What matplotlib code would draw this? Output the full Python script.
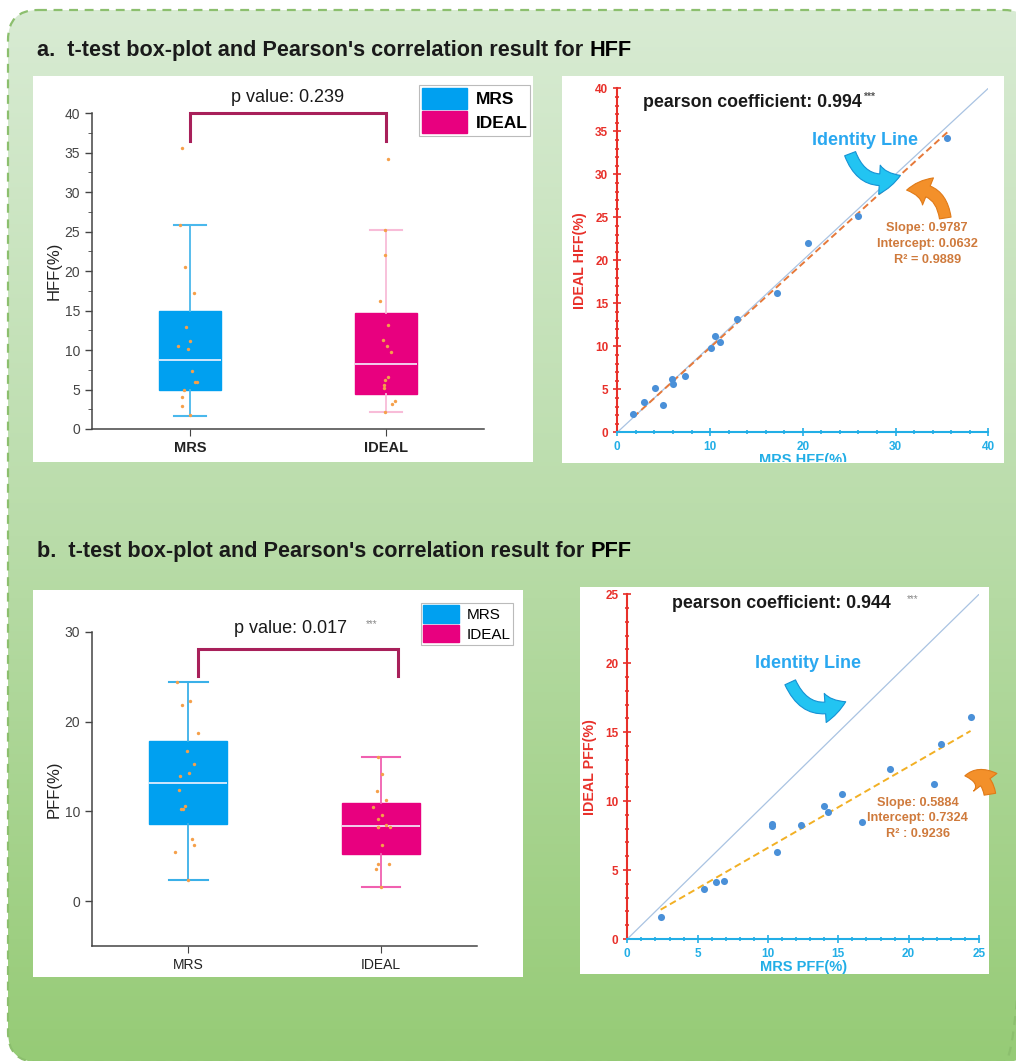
import matplotlib
matplotlib.use("Agg")
import matplotlib.pyplot as plt
import numpy as np
from matplotlib.patches import FancyBboxPatch, Rectangle, FancyArrowPatch, Patch
from matplotlib.ticker import MultipleLocator
from matplotlib.colors import LinearSegmentedColormap
from matplotlib.transforms import Bbox

plt.rcParams['font.family'] = ['Liberation Sans', 'DejaVu Sans']

W, H = 1016, 1061

# ---- data ----
groups = ["MRS", "IDEAL"]

hff_mrs = [1.73, 2.88, 4.1, 4.96, 5.9, 6.0, 7.3, 10.13, 10.5, 11.1, 12.9, 17.2, 20.55, 25.9, 35.6]
hff_ideal = [2.13, 3.57, 5.19, 3.18, 6.2, 5.58, 6.59, 9.77, 11.24, 10.54, 13.2, 16.2, 22.05, 25.16, 34.26]
hff_jit_mrs = [0.0, -0.04, -0.04, -0.03, 0.025, 0.035, 0.01, -0.012, -0.06, 0.0, -0.02, 0.02, -0.026, -0.05, -0.04]
hff_jit_ideal = [-0.007, 0.045, -0.01, 0.03, -0.007, -0.01, 0.01, 0.027, -0.017, 0.003, 0.01, -0.03, -0.007, -0.007, 0.01]

pff_mrs = [2.37, 5.47, 6.3, 6.9, 10.28, 10.31, 10.64, 12.35, 14.0, 14.3, 15.24, 16.7, 18.7, 21.82, 22.3, 24.4]
pff_ideal = [1.57, 3.6, 4.11, 4.18, 8.32, 8.22, 6.29, 8.27, 9.65, 9.19, 10.49, 8.46, 12.33, 11.27, 14.17, 16.1]
pff_jit_mrs = [0.0, -0.07, 0.03, 0.02, -0.04, -0.026, -0.017, -0.047, -0.043, 0.002, 0.03, -0.009, 0.05, -0.03, 0.009, -0.06]
pff_jit_ideal = [0.0, -0.026, -0.012, 0.045, -0.012, 0.05, 0.005, -0.012, 0.007, -0.016, -0.04, 0.028, -0.017, 0.026, 0.005, -0.012]

# whislo, q1, median, q3, whishi
hff_box = {"MRS": [1.7, 4.9, 8.7, 15.0, 25.9], "IDEAL": [2.2, 4.4, 8.2, 14.7, 25.2]}
pff_box = {"MRS": [2.4, 8.6, 13.2, 17.8, 24.4], "IDEAL": [1.6, 5.2, 8.4, 10.9, 16.1]}

hff_fit = (0.9787, 0.0632, 0.9889)
pff_fit = (0.5884, 0.7324, 0.9236)
hff_pearson = "0.994"
pff_pearson = "0.944"
hff_p = "0.239"
pff_p = "0.017"

BLUE = "#00a0f0"
PINK = "#e8007f"
DOT = "#f5a04a"
SCAT = "#4a90d8"
RED = "#e8302a"
XBLUE = "#22aee6"

fig = plt.figure(figsize=(W / 100, H / 100), dpi=100)


def px_axes(x0, y0, x1, y1, **kw):
    return fig.add_axes([x0 / W, 1 - y1 / H, (x1 - x0) / W, (y1 - y0) / H], **kw)


# ---- background: rounded, dashed, green gradient ----
bg = fig.add_axes([0, 0, 1, 1])
bg.set_xlim(0, W)
bg.set_ylim(H, 0)
bg.axis("off")
box = FancyBboxPatch((8, 10), 1026, 1052, boxstyle="round,pad=0,rounding_size=30",
                     facecolor="none", edgecolor="#8cbf6e", lw=1.6, ls=(0, (4, 3)), zorder=3)
bg.add_patch(box)
cmap = LinearSegmentedColormap.from_list("g", ["#d8ebd3", "#b9dca9", "#96cb76"])
grad = np.linspace(0, 1, 256).reshape(-1, 1)
im = bg.imshow(grad, cmap=cmap, extent=(8, 1034, 1062, 10), aspect="auto", zorder=1)
im.set_clip_path(box)

panels = [(33, 76, 533, 462), (562, 76, 1004, 463), (33, 590, 523, 977), (580, 587, 989, 974)]
for x0, y0, x1, y1 in panels:
    bg.add_patch(Rectangle((x0, y0), x1 - x0, y1 - y0, facecolor="white", edgecolor="none", zorder=4))

# section titles (last word bolder)
renderer = fig.canvas.get_renderer()
for ytit, head, tail in [(56, "a.  t-test box-plot and Pearson's correlation result for ", "HFF"),
                         (557, "b.  t-test box-plot and Pearson's correlation result for ", "PFF")]:
    t = bg.text(37, ytit, head, fontsize=15.6, fontweight="semibold", color="#1a1a1a",
                va="baseline", ha="left", zorder=5)
    ext = t.get_window_extent(renderer=renderer)
    bg.text(37 + ext.width, ytit, tail, fontsize=15.6, fontweight="bold", color="#000000",
            va="baseline", ha="left", zorder=5)


# ---- box plots ----
def box_panel(ax, stats, vals, jits, ylim, major, minor, ylabel, bracket, ptxt, legend_kw,
              bold, widths, capw, whisker_cols):
    bstats = []
    for g in groups:
        lo, q1, md, q3, hi = stats[g]
        bstats.append(dict(whislo=lo, q1=q1, med=md, q3=q3, whishi=hi, fliers=[], label=g))
    arts = ax.bxp(bstats, positions=[1, 2], widths=widths, capwidths=capw, patch_artist=True,
                  showfliers=False, medianprops=dict(color="#f2f2ff", lw=1.2))
    for i, col in enumerate([BLUE, PINK]):
        arts["boxes"][i].set_facecolor(col)
        arts["boxes"][i].set_edgecolor(col)
        for w in arts["whiskers"][2 * i:2 * i + 2]:
            w.set_color(whisker_cols[i])
            w.set_linewidth(1.3)
        for c in arts["caps"][2 * i:2 * i + 2]:
            c.set_color(whisker_cols[i])
            c.set_linewidth(1.5)
    for pos, v, j in [(1, vals[0], jits[0]), (2, vals[1], jits[1])]:
        ax.scatter(pos + np.array(j), v, s=6, color=DOT, zorder=5, linewidths=0)
    ax.set_xlim(0.5, 2.5)
    ax.set_ylim(*ylim)
    ax.yaxis.set_major_locator(MultipleLocator(major))
    if minor:
        ax.yaxis.set_minor_locator(MultipleLocator(minor))
    ax.set_xticks([1, 2])
    ax.set_xticklabels(groups, fontweight="bold" if bold else "normal", fontsize=10.5 if bold else 10,
                       color="#222222")
    ax.tick_params(axis="y", labelsize=10, colors="#444444", length=5, width=1)
    ax.tick_params(axis="y", which="minor", length=3, color="#444444")
    ax.tick_params(axis="x", length=5, color="#444444")
    for s in ["top", "right"]:
        ax.spines[s].set_visible(False)
    for s in ["left", "bottom"]:
        ax.spines[s].set_color("#444444")
        ax.spines[s].set_linewidth(1.1)
    ax.set_ylabel(ylabel, fontsize=12, color="#222222", labelpad=2)
    bx0, bx1, by0, by1 = bracket
    ax.plot([bx0, bx0, bx1, bx1], [by0, by1, by1, by0], color="#a8205a", lw=2.2, clip_on=False,
            solid_joinstyle="miter")
    ax.text(*ptxt[0], ptxt[1], fontsize=13, ha="center", va="center", color="#1a1a1a", clip_on=False)
    handles = [Patch(facecolor=BLUE, edgecolor=BLUE), Patch(facecolor=PINK, edgecolor=PINK)]
    leg = ax.legend(handles, groups, loc="upper left", bbox_transform=fig.transFigure,
                    prop=dict(weight="bold" if bold else "normal", size=legend_kw["size"]),
                    bbox_to_anchor=legend_kw["anchor"], handlelength=legend_kw["hl"],
                    handleheight=legend_kw["hh"], labelspacing=0.12, borderpad=0.15,
                    handletextpad=0.5, borderaxespad=0, fancybox=False, framealpha=1)
    leg.get_frame().set_edgecolor("#bbbbbb")
    leg.get_frame().set_linewidth(0.8)


axA = px_axes(92, 113.3, 484, 429)
axA.patch.set_alpha(0)
box_panel(axA, hff_box, [hff_mrs, hff_ideal], [hff_jit_mrs, hff_jit_ideal], (0, 40), 5, 2.5,
          "HFF(%)", (1, 2, 36.5, 40), ((1.5, 42.0), f"p value: {hff_p}"),
          dict(size=12.5, anchor=(419 / W, 1 - 85 / H), hl=2.6, hh=1.55), True, 0.32, 0.165,
          ["#4ab8ec", "#f8bcd8"])

axB = px_axes(92, 632, 477, 946)
axB.patch.set_alpha(0)
box_panel(axB, pff_box, [pff_mrs, pff_ideal], [pff_jit_mrs, pff_jit_ideal], (-5, 30), 10, None,
          "PFF(%)", (1.05, 2.09, 25.1, 28.1), ((1.53, 30.4), f"p value: {pff_p}"),
          dict(size=11, anchor=(421 / W, 1 - 603 / H), hl=2.35, hh=1.4), False, 0.405, 0.2,
          ["#3ab0e8", "#f060b0"])
axB.text(1.92, 30.9, "***", fontsize=7, color="#888888", ha="left", va="center", clip_on=False)


# ---- correlation scatter plots ----
def scatter_panel(ax, x, y, lim, xmajor, ymajor, minor, fit, fitcol, xlabel, ylabel):
    ax.plot([0, lim], [0, lim], color="#a9c3e2", lw=0.9, zorder=1)
    slope, icpt, _ = fit
    xf = np.array([min(x), max(x)])
    ax.plot(xf, slope * xf + icpt, color=fitcol, lw=1.4, ls=(0, (3.5, 2)), zorder=2)
    ax.scatter(x, y, s=26, color=SCAT, zorder=3, linewidths=0)
    ax.set_xlim(0, lim)
    ax.set_ylim(0, lim)
    ax.xaxis.set_major_locator(MultipleLocator(xmajor))
    ax.yaxis.set_major_locator(MultipleLocator(ymajor))
    ax.xaxis.set_minor_locator(MultipleLocator(minor[0]))
    ax.yaxis.set_minor_locator(MultipleLocator(minor[1]))
    for s in ["top", "right"]:
        ax.spines[s].set_visible(False)
    ax.spines["left"].set_color(RED)
    ax.spines["left"].set_linewidth(1.5)
    ax.spines["bottom"].set_color(XBLUE)
    ax.spines["bottom"].set_linewidth(1.5)
    ax.tick_params(axis="y", which="both", colors=RED, direction="inout", width=1.2)
    ax.tick_params(axis="x", which="both", colors=XBLUE, direction="inout", width=1.2)
    ax.tick_params(which="major", length=6, labelsize=8.5)
    ax.tick_params(which="minor", length=3)
    for lab in ax.get_xticklabels() + ax.get_yticklabels():
        lab.set_fontweight("bold")
    ax.set_ylabel(ylabel, color=RED, fontsize=10.3, fontweight="bold", labelpad=6)
    ax.set_xlabel(xlabel, color=XBLUE, fontsize=10.5, fontweight="bold", labelpad=0)


def curved_arrow(ax, a, b, face, edge, rad):
    arr = FancyArrowPatch(a, b, connectionstyle=f"arc3,rad={rad}",
                          arrowstyle="simple,head_length=1.1,head_width=1.5,tail_width=0.6",
                          mutation_scale=14, facecolor=face, edgecolor=edge, lw=0.8,
                          clip_on=False, zorder=4)
    ax.add_patch(arr)


axC = px_axes(617.3, 88.3, 988.3, 432.3)
axC.patch.set_alpha(0)
scatter_panel(axC, hff_mrs, hff_ideal, 40, 10, 5, (2, 1), hff_fit, "#e6793a",
              "MRS HFF(%)", "IDEAL HFF(%)")
axC.text(2.8, 38.3, "pearson coefficient: " + hff_pearson, fontsize=12.8,
         fontweight="bold", color="#1a1a1a", va="center")
axC.text(26.5, 39.0, "***", fontsize=7.5, fontweight="bold", color="#555555", va="center")
axC.text(26.7, 33.9, "Identity Line", fontsize=13, fontweight="bold", color="#2aa8f0",
         ha="center", va="center")
curved_arrow(axC, (25.0, 32.7), (30.8, 30.0), "#22c4f2", "#1592d4", 0.55)
curved_arrow(axC, (35.4, 24.6), (30.9, 28.1), "#f3902a", "#e07a18", 0.55)
axC.text(33.4, 21.9, f"Slope: {hff_fit[0]}\nIntercept: {hff_fit[1]}\nR² = {hff_fit[2]}",
         fontsize=9.2, fontweight="bold", color="#cf7a3c", ha="center", va="center",
         linespacing=1.4)
# x label is cut off by the panel edge in the source
clip = Bbox.from_extents(0, (H - 462), W, H)
axC.xaxis.label.set_clip_box(clip)
axC.xaxis.label.set_clip_on(True)

axD = px_axes(627.3, 594.3, 979, 939)
axD.patch.set_alpha(0)
scatter_panel(axD, pff_mrs, pff_ideal, 25, 5, 5, (1, 1), pff_fit, "#f2b024",
              "MRS PFF(%)", "IDEAL PFF(%)")
axD.text(3.2, 24.3, "pearson coefficient: " + pff_pearson, fontsize=12.8, fontweight="bold",
         color="#1a1a1a", va="center")
axD.text(19.9, 24.65, "***", fontsize=7, color="#888888", va="center")
axD.text(12.87, 20.0, "Identity Line", fontsize=13, fontweight="bold", color="#2aa8f0",
         ha="center", va="center")
curved_arrow(axD, (11.5, 18.8), (15.7, 17.3), "#22c4f2", "#1592d4", 0.55)
curved_arrow(axD, (25.8, 10.3), (23.8, 11.8), "#f3902a", "#e07a18", 0.55)
axD.text(20.64, 8.75, f"Slope: {pff_fit[0]}\nIntercept: {pff_fit[1]}\nR² : {pff_fit[2]}",
         fontsize=9.2, fontweight="bold", color="#cf7a3c", ha="center", va="center",
         linespacing=1.4)

fig.savefig("out.png", dpi=100)
